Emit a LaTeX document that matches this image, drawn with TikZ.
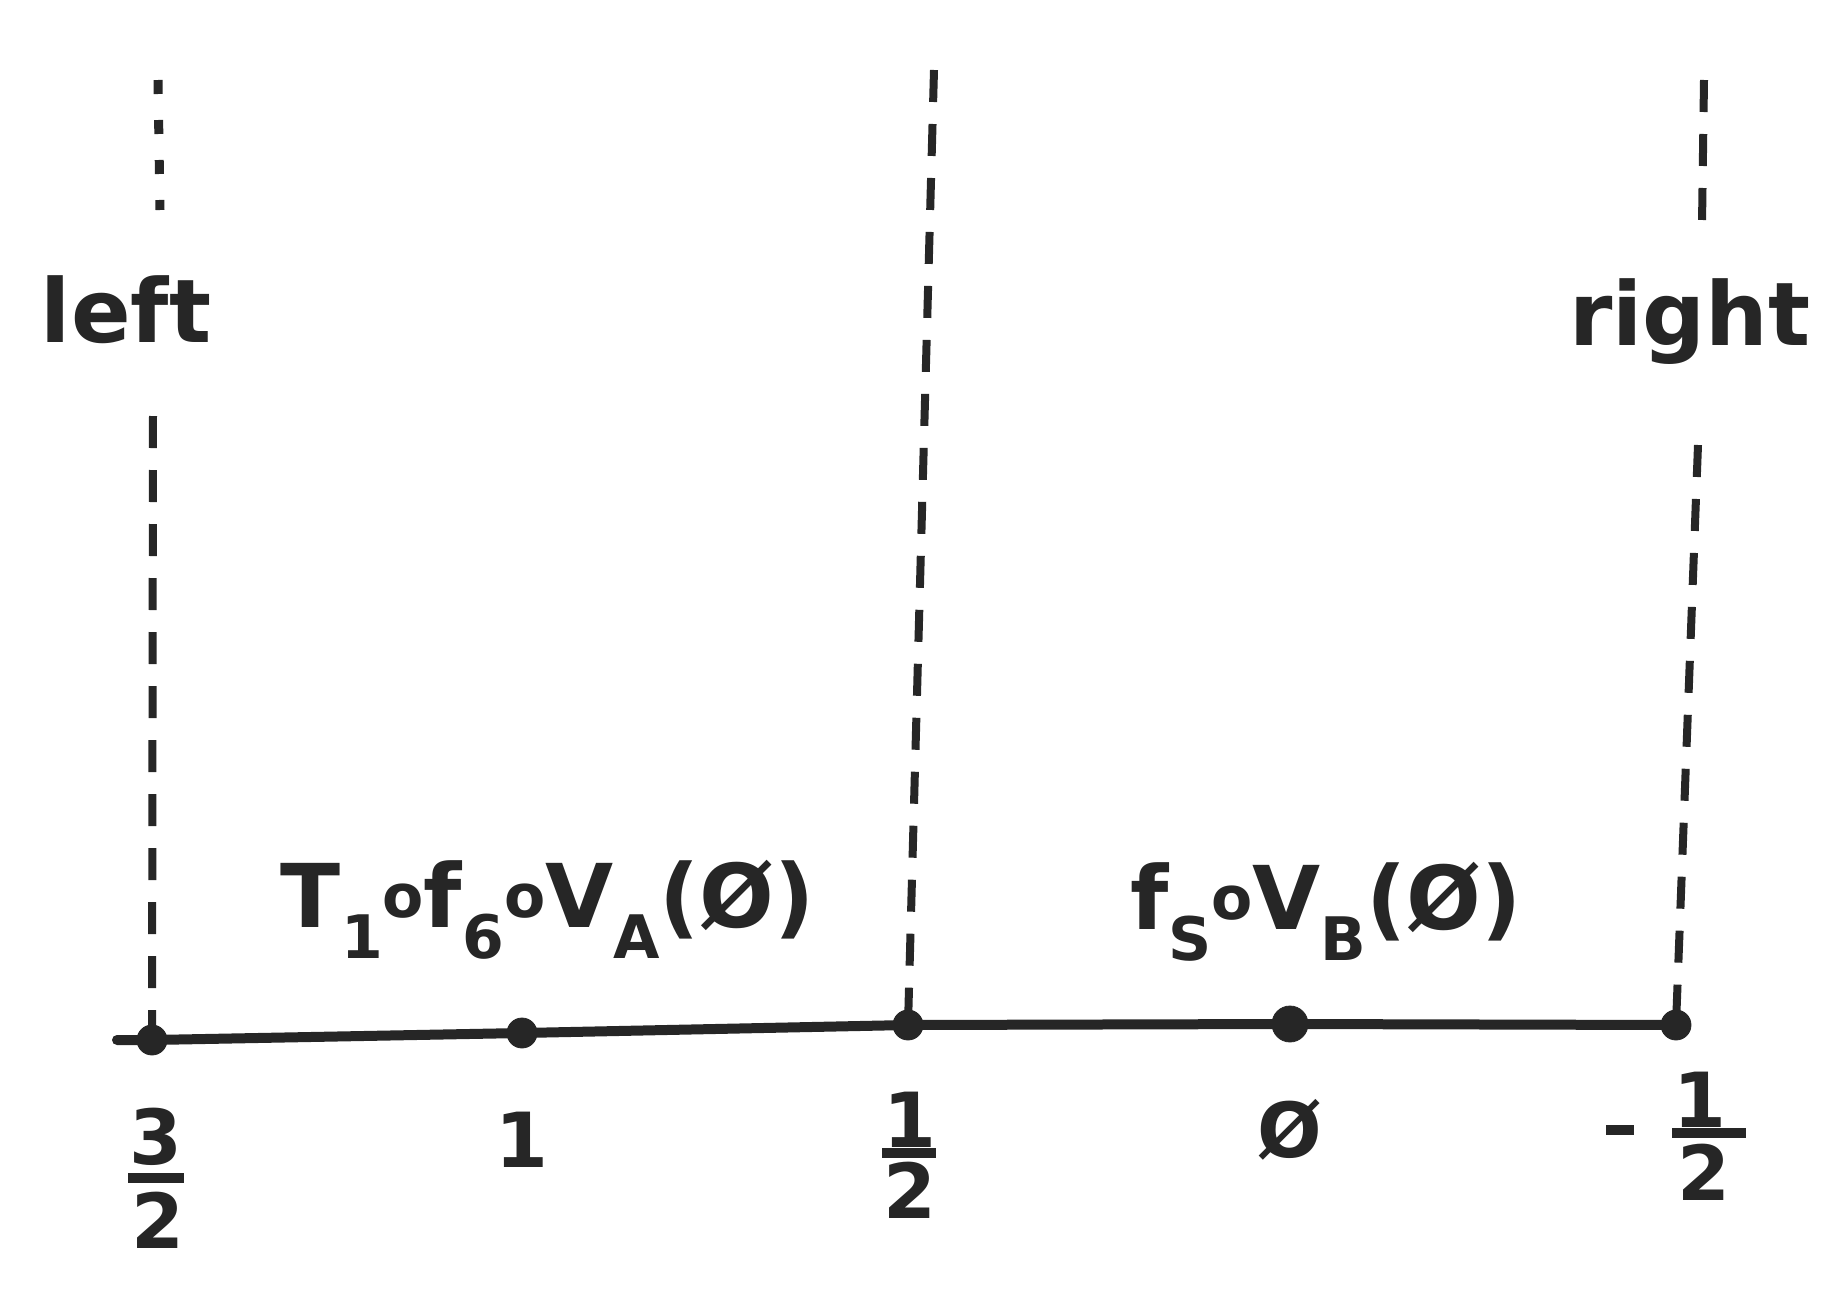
\documentclass[tikz,border=0pt]{standalone}
\usepackage{fontspec}
\setmainfont{DejaVu Sans}
\newcommand\lowsub[1]{\raisebox{-0.35em}{\fontsize{30}{30}\selectfont #1}}
\newcommand\cmp{\raisebox{0.12em}{\fontsize{30}{30}\selectfont o}}
\begin{document}
\begin{tikzpicture}[x=0.5pt,y=-0.5pt,
  lab/.style={font=\fontsize{44}{48}\selectfont\bfseries, text=black!85, inner sep=0pt},
  num/.style={font=\fontsize{38}{40}\selectfont\bfseries, text=black!85, inner sep=0pt},
  bar/.style={draw=black!85, line width=5pt},
  dot/.style={circle, fill=black!85, draw=black!85, inner sep=0pt, minimum size=15pt},
  vdash/.style={draw=black!85, line width=4pt, dash pattern=on 16pt off 11pt},
  vdot/.style={draw=black!85, line width=4.5pt, dash pattern=on 7pt off 13pt},
  axis/.style={draw=black!85, line width=5pt, line cap=round}]
\useasboundingbox (0,0) rectangle (1838,1306);
% axis points
\coordinate (A0) at (117,1040);
\node[dot] (p32) at (152,1040) {};
\node[dot] (p1) at (522,1033) {};
\node[dot] (ph) at (908,1025) {};
\node[dot, minimum size=18pt] (p0) at (1290,1024) {};
\node[dot] (pmh) at (1676,1025) {};
\draw[axis] (A0) -- (p32.center) -- (p1.center) -- (ph.center) -- (p0.center) -- (pmh.center);
% left vertical
\coordinate (LT1) at (158,80);
\coordinate (LT2) at (160,210);
\draw[vdot] (LT1) -- (LT2);
\node[lab] (left) at (126,310) {left};
\coordinate (LB1) at (153,416);
\draw[vdash] (LB1) -- (p32.center);
% middle vertical
\coordinate (MT) at (934,70);
\draw[vdash] (MT) -- (ph.center);
% right vertical
\coordinate (RT1) at (1704,80);
\coordinate (RT2) at (1702,224);
\draw[vdash] (RT1) -- (RT2);
\node[lab] (right) at (1690,322) {right};
\coordinate (RB1) at (1698,445);
\draw[vdash] (RB1) -- (pmh.center);
% function labels
\node[lab] (la) at (548,910) {T\lowsub{1}\cmp f\lowsub{6}\cmp V\lowsub{A}(Ø)};
\node[lab] (lb) at (1326,912) {f\lowsub{S}\cmp V\lowsub{B}(Ø)};
% tick labels
\node[num] (n32) at (156,1137) {3};
\coordinate (b32a) at (128,1178);
\coordinate (b32b) at (184,1178);
\draw[bar] (b32a) -- (b32b);
\node[num] (d32) at (158,1220) {2};
\node[num] (t1) at (522,1140) {1};
\node[num] (nh) at (910,1120) {1};
\coordinate (bha) at (882,1153);
\coordinate (bhb) at (936,1153);
\draw[bar] (bha) -- (bhb);
\node[num] (dh) at (910,1190) {2};
\node[num] (t0) at (1290,1130) {Ø};
\coordinate (ma) at (1606,1130);
\coordinate (mb) at (1634,1130);
\draw[bar] (ma) -- (mb);
\node[num] (nmh) at (1700,1100) {1};
\coordinate (bma) at (1672,1133);
\coordinate (bmb) at (1746,1133);
\draw[bar] (bma) -- (bmb);
\node[num] (dmh) at (1704,1172) {2};
\end{tikzpicture}
\end{document}
